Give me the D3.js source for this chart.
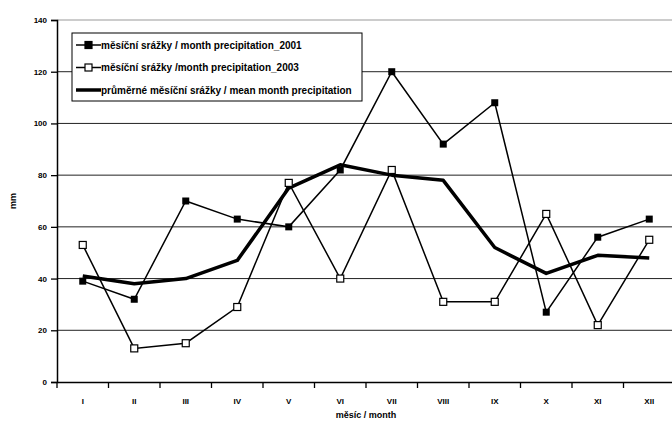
<!DOCTYPE html>
<html>
<head>
<meta charset="utf-8">
<script src="https://cdn.jsdelivr.net/npm/d3@7"></script>
<style>
  body { margin: 0; background: #fff; }
  svg text { font-family: "Liberation Sans", Arial, sans-serif; font-weight: bold; fill: #000; }
</style>
</head>
<body>
<div id="chart"></div>
<script>
const months = ["I", "II", "III", "IV", "V", "VI", "VII", "VIII", "IX", "X", "XI", "XII"];
const precip2001 = [39, 32, 70, 63, 60, 82, 120, 92, 108, 27, 56, 63];
const precip2003 = [53, 13, 15, 29, 77, 40, 82, 31, 31, 65, 22, 55];
const precipMean = [41, 38, 40, 47, 75, 84, 80, 78, 52, 42, 49, 48];
const yTicks = [0, 20, 40, 60, 80, 100, 120, 140];
const legendLabels = [
    "měsíční srážky / month precipitation_2001",
    "měsíční srážky /month precipitation_2003",
    "průměrné měsíční srážky / mean month precipitation"
];

const W = 672, H = 421;
const margin = {top: 20, right: -3, bottom: 39, left: 57};
const width = W - margin.left - margin.right;
const height = H - margin.top - margin.bottom;

const svg = d3.select("#chart").append("svg")
    .attr("width", W).attr("height", H);
const g = svg.append("g").attr("transform", `translate(${margin.left},${margin.top})`);

const x = d3.scaleBand().domain(months).range([0, width]);
const y = d3.scaleLinear().domain([0, 140]).range([height, 0]);
const cx = d => x(d) + x.bandwidth() / 2;

// gridlines
g.selectAll(".grid").data(yTicks.filter(t => t > 0)).enter().append("line")
    .attr("x1", 0).attr("x2", width)
    .attr("y1", d => y(d)).attr("y2", d => y(d))
    .attr("stroke", d => d === 140 ? "#999" : "#222")
    .attr("stroke-width", 1);

// y axis
const yAxis = g.append("g")
    .call(d3.axisLeft(y).tickValues(yTicks).tickSize(6).tickPadding(4));
yAxis.select(".domain").attr("stroke", "#000").attr("stroke-width", 1.5);
yAxis.selectAll(".tick line").attr("stroke", "#000").attr("stroke-width", 1.3);
yAxis.selectAll("text").style("font-size", "8px");

// x axis
const xAxis = g.append("g").attr("transform", `translate(0,${height})`)
    .call(d3.axisBottom(x).tickSize(0).tickPadding(16));
xAxis.select(".domain").attr("stroke", "#000").attr("stroke-width", 1.5);
xAxis.selectAll("text").style("font-size", "8px");
// ticks at category borders
g.append("g").selectAll("line").data(months).enter().append("line")
    .attr("x1", d => x(d)).attr("x2", d => x(d))
    .attr("y1", height).attr("y2", height + 6)
    .attr("stroke", "#000").attr("stroke-width", 1.3);

// axis titles
svg.append("text")
    .attr("transform", `translate(16,${margin.top + y(70)}) rotate(-90)`)
    .attr("text-anchor", "middle")
    .style("font-size", "9px")
    .text("mm");
svg.append("text")
    .attr("x", margin.left + width / 2).attr("y", 418)
    .attr("text-anchor", "middle")
    .style("font-size", "9px")
    .text("měsíc / month");

const line = d3.line().x((d, i) => cx(months[i])).y(d => y(d));

// mean line
g.append("path").datum(precipMean)
    .attr("fill", "none").attr("stroke", "#000").attr("stroke-width", 3.5)
    .attr("stroke-linejoin", "round")
    .attr("d", line);

// 2001
g.append("path").datum(precip2001)
    .attr("fill", "none").attr("stroke", "#000").attr("stroke-width", 1.5)
    .attr("d", line);
g.selectAll(".m2001").data(precip2001).enter().append("rect")
    .attr("x", (d, i) => cx(months[i]) - 3.5).attr("y", d => y(d) - 3.5)
    .attr("width", 7).attr("height", 7)
    .attr("fill", "#000");

// 2003
g.append("path").datum(precip2003)
    .attr("fill", "none").attr("stroke", "#000").attr("stroke-width", 1.5)
    .attr("d", line);
g.selectAll(".m2003").data(precip2003).enter().append("rect")
    .attr("x", (d, i) => cx(months[i]) - 3.5).attr("y", d => y(d) - 3.5)
    .attr("width", 7).attr("height", 7)
    .attr("fill", "#fff").attr("stroke", "#000").attr("stroke-width", 1.2);

// legend
const legend = svg.append("g").attr("transform", "translate(72,33)");
legend.append("rect")
    .attr("width", 290).attr("height", 68)
    .attr("fill", "#fff").attr("stroke", "#000").attr("stroke-width", 1);
const items = legend.selectAll(".item").data(legendLabels).enter().append("g")
    .attr("transform", (d, i) => `translate(4,${12 + i * 22.5})`);
items.append("line")
    .attr("x1", 0).attr("x2", 25).attr("y1", 0).attr("y2", 0)
    .attr("stroke", "#000").attr("stroke-width", (d, i) => i === 2 ? 3.5 : 1.5);
items.filter((d, i) => i < 2).append("rect")
    .attr("x", 9).attr("y", -3.5).attr("width", 7).attr("height", 7)
    .attr("fill", (d, i) => i === 0 ? "#000" : "#fff")
    .attr("stroke", "#000").attr("stroke-width", 1.2);
items.append("text")
    .attr("x", 25).attr("y", 3.5)
    .style("font-size", "10px")
    .text(d => d);
</script>
</body>
</html>
